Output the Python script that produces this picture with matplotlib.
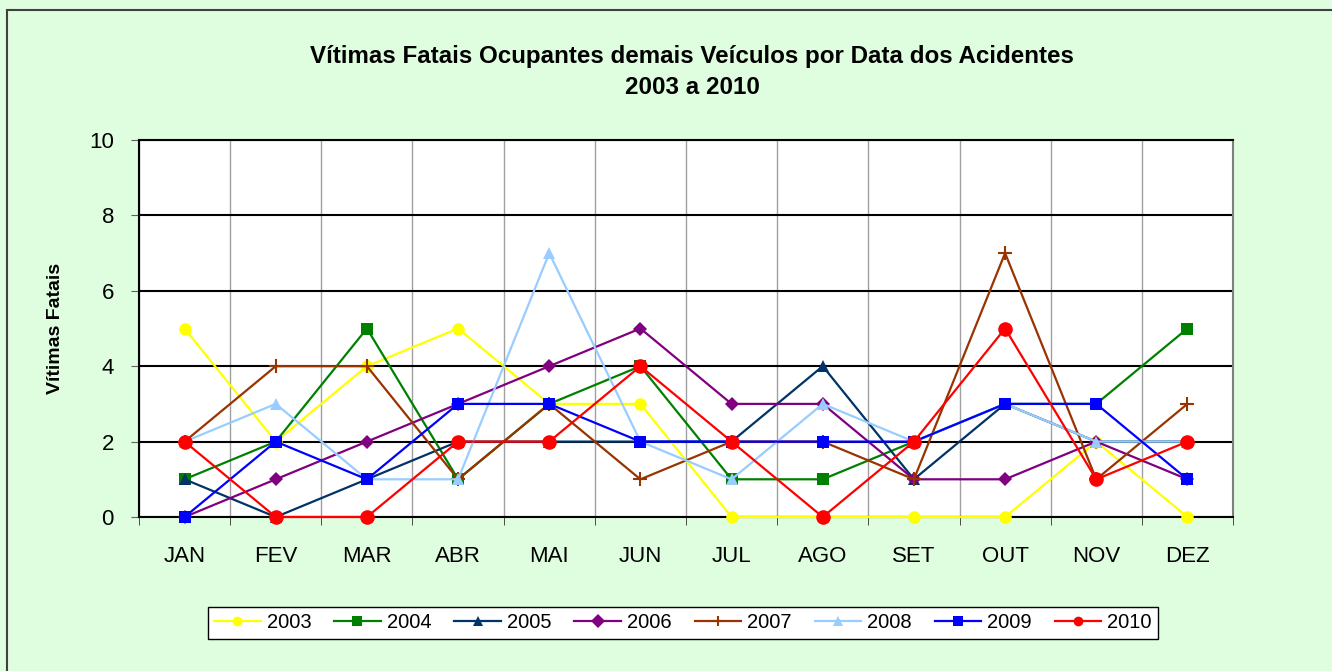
import matplotlib
matplotlib.use("Agg")
import matplotlib.pyplot as plt
from matplotlib.patches import Rectangle

plt.rcParams['font.family'] = ['Liberation Sans', 'DejaVu Sans']

months = ["JAN", "FEV", "MAR", "ABR", "MAI", "JUN", "JUL", "AGO", "SET", "OUT", "NOV", "DEZ"]
years = ["2003", "2004", "2005", "2006", "2007", "2008", "2009", "2010"]

v2003 = [5, 2, 4, 5, 3, 3, 0, 0, 0, 0, 2, 0]
v2004 = [1, 2, 5, 1, 3, 4, 1, 1, 2, 3, 3, 5]
v2005 = [1, 0, 1, 2, 2, 2, 2, 4, 1, 3, 2, 2]
v2006 = [0, 1, 2, 3, 4, 5, 3, 3, 1, 1, 2, 1]
v2007 = [2, 4, 4, 1, 3, 1, 2, 2, 1, 7, 1, 3]
v2008 = [2, 3, 1, 1, 7, 2, 1, 3, 2, 3, 2, 2]
v2009 = [0, 2, 1, 3, 3, 2, 2, 2, 2, 3, 3, 1]
v2010 = [2, 0, 0, 2, 2, 4, 2, 0, 2, 5, 1, 2]

series = [v2003, v2004, v2005, v2006, v2007, v2008, v2009, v2010]
colors = ["#FFFF00", "#008000", "#003366", "#800080", "#993300", "#99CCFF", "#0000FF", "#FF0000"]
markers = ["o", "s", "^", "D", "+", "^", "s", "o"]
msizes = [9, 8.5, 8.5, 7, 10, 8.5, 9, 10.5]

fig = plt.figure(figsize=(13.32, 6.71), dpi=100)
fig.patch.set_facecolor("#DFFDDF")
fig.patches.append(Rectangle((7/1332, -0.01), 1.2, (671-10)/671 + 0.01,
                             transform=fig.transFigure, fill=False,
                             edgecolor="#404040", linewidth=1.5))

ax = fig.add_axes([139/1332, (671-517)/671, (1233-139)/1332, (517-140)/671])
ax.set_facecolor("white")

x = list(range(len(months)))
for vals, c, m, ms, y in zip(series, colors, markers, msizes, years):
    kw = dict(markeredgewidth=1.5) if m == "+" else dict(markeredgewidth=0)
    ax.plot(x, vals, color=c, marker=m, markersize=ms, linewidth=1.6,
            markerfacecolor=c, markeredgecolor=c, label=y, clip_on=False,
            zorder=3, **kw)

ax.set_xlim(-0.5, 11.5)
ax.set_ylim(0, 10)
ax.set_yticks([0, 2, 4, 6, 8, 10])
ax.set_xticks(x)
ax.set_xticklabels(months)
ax.set_xticks([i + 0.5 for i in range(-1, 12)], minor=True)
ax.tick_params(axis="x", which="major", length=0, pad=21, labelsize=16)
ax.tick_params(axis="x", which="minor", length=6, color="#303030", direction="out")
ax.tick_params(axis="y", which="major", length=6, color="#606060", pad=12, labelsize=16)

ax.grid(axis="y", which="major", color="black", linewidth=1.5)
ax.grid(axis="x", which="minor", color="#A0A0A0", linewidth=1)
ax.set_axisbelow(True)

for s in ["top", "left", "bottom"]:
    ax.spines[s].set_color("black")
    ax.spines[s].set_linewidth(1.5)
ax.spines["right"].set_color("#808080")
ax.spines["right"].set_linewidth(1.5)

ax.set_ylabel("Vítimas Fatais", fontsize=14, fontweight="bold", labelpad=18)

fig.text(692/1332, 1 - 57/671, "Vítimas Fatais Ocupantes demais Veículos por Data dos Acidentes",
         ha="center", va="center", fontsize=17.4, fontweight="bold")
fig.text(692/1332, 1 - 88/671, "2003 a 2010",
         ha="center", va="center", fontsize=17.4, fontweight="bold")

leg = fig.legend(loc="center", bbox_to_anchor=(683/1332, 1 - 623/671), ncol=8,
                 fontsize=14.5, frameon=True, fancybox=False, edgecolor="black",
                 handlelength=2.3, handletextpad=0.3, columnspacing=1.15,
                 borderpad=0.3)
leg.get_frame().set_linewidth(1.0)
leg.get_frame().set_facecolor("white")
leg.get_frame().set_alpha(1)
for h in leg.legend_handles:
    h.set_markersize(7)

fig.savefig("out.png", dpi=100, facecolor=fig.get_facecolor())
